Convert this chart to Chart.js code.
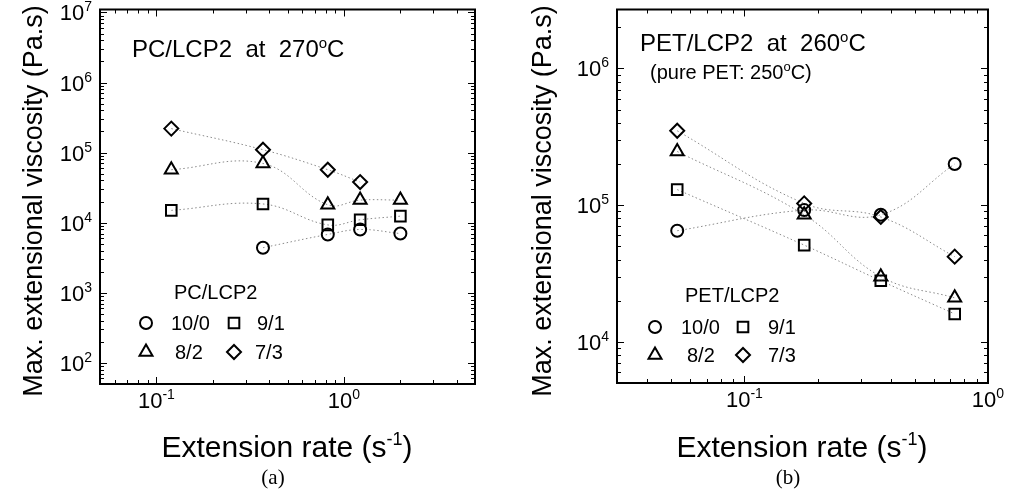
<!DOCTYPE html>
<html>
<head>
<meta charset="utf-8">
<script src="https://cdn.jsdelivr.net/npm/chart.js@4.4.0/dist/chart.umd.min.js"></script>
<style>
  html, body { margin: 0; padding: 0; background: #fff; }
  #wrap { position: relative; width: 1016px; height: 499px; overflow: hidden; }
  canvas { position: absolute; top: 0; }
</style>
</head>
<body>
<div id="wrap">
  <canvas id="chartA" width="508" height="499" style="left:0"></canvas>
  <canvas id="chartB" width="508" height="499" style="left:508px"></canvas>
</div>
<script>
// --- data (a): PC/LCP2 at 270 C ---
const rateA = [0.12, 0.37, 0.82, 1.22, 2.0]
const pcA_10_0 = [null, 4400, 6800, 8000, 7000]
const pcA_9_1 = [15000, 18500, 9300, 11000, 12400]
const pcA_8_2 = [57000, 70000, 18000, 21000, 21000]
const pcA_7_3 = [220000, 110000, 57000, 38000, null]

// --- data (b): PET/LCP2 at 260 C ---
const rateB = [0.053, 0.176, 0.363, 0.73]
const petB_10_0 = [65000, 92000, 85000, 200000]
const petB_9_1 = [130000, 51000, 28000, 16000]
const petB_8_2 = [247000, 85000, 30000, 21000]
const petB_7_3 = [350000, 103000, 82000, 42000]

const blendNames = ['10/0', '9/1', '8/2', '7/3']
const markerStyles = ['circle', 'rect', 'triangle', 'rectRot']
const markerSizes = [6, 7.5, 7.5, 7]

// tick decades
const xDecadesA = [-1, 0]
const yDecadesA = [2, 3, 4, 5, 6, 7]
const xDecadesB = [-1, 0]
const yDecadesB = [4, 5, 6]

const FONT = '"Liberation Sans", Arial, Helvetica, sans-serif'
const SERIF = '"Liberation Serif", "Times New Roman", serif'

// make {x,y} pairs, skip missing values
function pairs(xs, ys) {
  let out = []
  xs.forEach((x, i) => {
    if (ys[i] != null) out.push({ x: x, y: ys[i] })
  })
  return out
}

function makeSet(name, idx, xs, ys) {
  return {
    label: name,
    data: pairs(xs, ys),
    showLine: true,
    tension: 0.4,
    borderColor: '#8a8a8a',
    borderWidth: 1,
    borderDash: [1.5, 2.5],
    pointStyle: markerStyles[idx],
    pointRadius: markerSizes[idx],
    pointBorderColor: '#000',
    pointBackgroundColor: 'rgba(0,0,0,0)',
    pointBorderWidth: 2
  }
}

// text with raised parts: parts = [[text, size, raise], ...]
function richWidth(ctx, parts, family) {
  let w = 0
  parts.forEach(p => {
    ctx.font = p[1] + 'px ' + family
    w += ctx.measureText(p[0]).width
  })
  return w
}
function drawRich(ctx, parts, x, y, align, family) {
  family = family || FONT
  let w = richWidth(ctx, parts, family)
  let cx = x
  if (align === 'center') cx = x - w / 2
  if (align === 'right') cx = x - w
  ctx.textAlign = 'left'
  ctx.textBaseline = 'alphabetic'
  parts.forEach(p => {
    ctx.font = p[1] + 'px ' + family
    ctx.fillText(p[0], cx, y - (p[2] || 0))
    cx += ctx.measureText(p[0]).width
  })
}

function marker(ctx, style, r, x, y) {
  ctx.save()
  ctx.strokeStyle = '#000'
  ctx.lineWidth = 2
  ctx.fillStyle = 'rgba(0,0,0,0)'
  if (Chart.helpers && Chart.helpers.drawPoint) {
    Chart.helpers.drawPoint(ctx, { pointStyle: style, radius: r, borderWidth: 2, rotation: 0 }, x, y)
  }
  ctx.restore()
}

// axes frame, inward ticks, labels, titles, notes, legend
function framePlugin(cfg) {
  return {
    id: 'frame',
    afterDraw(chart) {
      const ctx = chart.ctx
      const a = chart.chartArea
      const xs = chart.scales.x
      const ys = chart.scales.y
      ctx.save()
      ctx.strokeStyle = '#000'
      ctx.fillStyle = '#000'

      // ticks
      ctx.lineWidth = 1
      ctx.beginPath()
      for (let n = -3; n <= 8; n++) {
        for (let k = 1; k <= 9; k++) {
          let v = k * Math.pow(10, n)
          let len = k === 1 ? 7 : 4
          if (v >= xs.min && v <= xs.max) {
            let px = Math.round(xs.getPixelForValue(v)) + 0.5
            ctx.moveTo(px, a.bottom); ctx.lineTo(px, a.bottom - len)
            ctx.moveTo(px, a.top); ctx.lineTo(px, a.top + len)
          }
          if (v >= ys.min && v <= ys.max) {
            let py = Math.round(ys.getPixelForValue(v)) + 0.5
            ctx.moveTo(a.left, py); ctx.lineTo(a.left + len, py)
            ctx.moveTo(a.right, py); ctx.lineTo(a.right - len, py)
          }
        }
      }
      ctx.stroke()

      // box
      ctx.lineWidth = 2
      ctx.strokeRect(a.left, a.top, a.right - a.left, a.bottom - a.top)

      // tick labels
      cfg.xDecades.forEach(n => {
        let px = xs.getPixelForValue(Math.pow(10, n))
        drawRich(ctx, [['10', 22, 0], [String(n), 14, 9]], px, a.bottom + 24, 'center')
      })
      cfg.yDecades.forEach(n => {
        let py = ys.getPixelForValue(Math.pow(10, n))
        drawRich(ctx, [['10', 22, 0], [String(n), 14, 9]], a.left - 8, py + 8, 'right')
      })

      // axis titles
      ctx.save()
      ctx.translate(cfg.yTitleX, cfg.yTitleY)
      ctx.rotate(-Math.PI / 2)
      drawRich(ctx, [['Max. extensional viscosity (Pa.s)', 27, 0]], 0, 10, 'center')
      ctx.restore()
      drawRich(ctx, [['Extension rate (s', 30, 0], ['-1', 18, 12], [')', 30, 0]], cfg.xTitleX, 457, 'center')
      drawRich(ctx, [[cfg.panel, 21, 0]], cfg.xTitleX - 14, 484, 'center', SERIF)

      // notes inside the plot
      cfg.notes.forEach(nt => drawRich(ctx, nt.parts, nt.x, nt.y, 'left'))

      // legend
      const lg = cfg.legend
      drawRich(ctx, [[lg.title, 20, 0]], lg.titleX, lg.titleY, 'left')
      blendNames.forEach((name, i) => {
        let col = i % 2
        let row = Math.floor(i / 2)
        let mx = lg.markX[col]
        let my = lg.rowY[row]
        marker(ctx, markerStyles[i], markerSizes[i], mx, my)
        drawRich(ctx, [[name, 20, 0]], lg.textX[i], my + 7, 'left')
      })
      ctx.restore()
    }
  }
}

function logScale(min, max) {
  return {
    type: 'logarithmic',
    min: min,
    max: max,
    display: false
  }
}

function makeChart(id, xs, series, xr, yr, pad, cfg) {
  let sets = series.map((ys, i) => makeSet(blendNames[i], i, xs, ys))
  return new Chart(document.getElementById(id), {
    type: 'scatter',
    data: { datasets: sets },
    options: {
      responsive: false,
      animation: false,
      devicePixelRatio: 1,
      layout: { padding: pad },
      plugins: { legend: { display: false }, tooltip: { enabled: false } },
      scales: { x: logScale(xr[0], xr[1]), y: logScale(yr[0], yr[1]) }
    },
    plugins: [framePlugin(cfg)]
  })
}

makeChart('chartA', rateA, [pcA_10_0, pcA_9_1, pcA_8_2, pcA_7_3],
  [0.05, 5], [50, 1.1e7],
  { left: 100, right: 33, top: 7, bottom: 115 },
  {
    xDecades: xDecadesA, yDecades: yDecadesA,
    yTitleX: 32, yTitleY: 201, xTitleX: 287, panel: '(a)',
    notes: [{ x: 132, y: 57, parts: [['PC/LCP2  at  270', 24, 0], ['o', 15, 9], ['C', 24, 0]] }],
    legend: { title: 'PC/LCP2', titleX: 174, titleY: 299,
      markX: [146, 234], rowY: [323, 352], textX: [171, 257, 175, 255] }
  })

makeChart('chartB', rateB, [petB_10_0, petB_9_1, petB_8_2, petB_7_3],
  [0.03, 1], [5000, 2.7e6],
  { left: 109, right: 28, top: 7, bottom: 116 },
  {
    xDecades: xDecadesB, yDecades: yDecadesB,
    yTitleX: 33, yTitleY: 201, xTitleX: 294, panel: '(b)',
    notes: [
      { x: 132, y: 51, parts: [['PET/LCP2  at  260', 24, 0], ['o', 15, 9], ['C', 24, 0]] },
      { x: 142, y: 79, parts: [['(pure PET: 250', 20, 0], ['o', 13, 8], ['C)', 20, 0]] }
    ],
    legend: { title: 'PET/LCP2', titleX: 177, titleY: 302,
      markX: [147, 235], rowY: [327, 355], textX: [173, 260, 179, 260] }
  })
</script>
</body>
</html>
